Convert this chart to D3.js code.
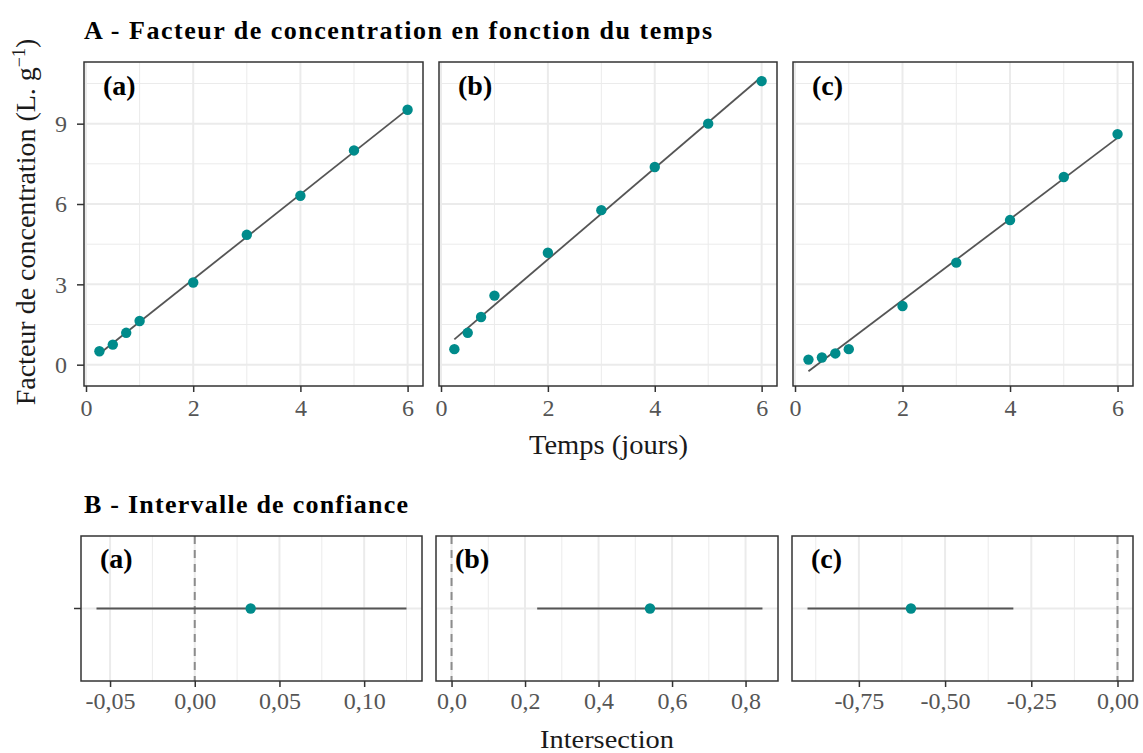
<!DOCTYPE html>
<html><head><meta charset="utf-8">
<script src="https://cdn.jsdelivr.net/npm/d3@7"></script>
<style>body{margin:0;background:#fff}svg{display:block}text{font-family:"Liberation Serif","DejaVu Serif",serif}</style>
</head><body><svg id="c" width="1143" height="753"></svg>
<script>
// ---- data ----
const times = [0.25, 0.5, 0.75, 1, 2, 3, 4, 5, 6];
const panelLabels = ["(a)", "(b)", "(c)"];
const concA = [0.50, 0.75, 1.19, 1.63, 3.07, 4.85, 6.31, 8.00, 9.52];
const concB = [0.58, 1.19, 1.78, 2.58, 4.18, 5.77, 7.38, 9.00, 10.59];
const concC = [0.19, 0.27, 0.42, 0.58, 2.19, 3.81, 5.40, 7.01, 8.61];
const ciLow  = [-0.058, 0.233, -0.899];
const ciEst  = [0.033, 0.540, -0.599];
const ciHigh = [0.125, 0.846, -0.302];
const yTicks = [0, 3, 6, 9];
const xTicks = [0, 2, 4, 6];
const ciTicksA = [-0.05, 0, 0.05, 0.10];
const ciTicksB = [0, 0.2, 0.4, 0.6, 0.8];
const ciTicksC = [-0.75, -0.5, -0.25, 0];
const ciDigits = [2, 1, 2];

const series = [concA, concB, concC];
const ciTicks = [ciTicksA, ciTicksB, ciTicksC];

const svg = d3.select("#c");
const teal = "#008B8B", grid = "#EBEBEB", border = "#333333", tickCol = "#555555";
const tickFont = 24;

function ols(x, y) {
  const mx = d3.mean(x), my = d3.mean(y);
  let sxy = 0, sxx = 0;
  x.forEach((v, i) => { sxy += (v - mx) * (y[i] - my); sxx += (v - mx) ** 2; });
  const b = sxy / sxx; return { a: my - b * mx, b };
}
function expand(ext, f = 0.05) { const r = ext[1] - ext[0]; return [ext[0] - r * f, ext[1] + r * f]; }
function minors(ticks, dom) {
  const step = ticks[1] - ticks[0], out = [];
  for (let v = ticks[0] - step / 2; v <= dom[1]; v += step) if (v >= dom[0]) out.push(v);
  return out;
}
const fr = (d, n) => d3.format("." + n + "f")(d).replace("−", "-").replace(".", ",");

// ---- Part A ----
const fits = series.map(s => ols(times, s));
const allY = [];
series.forEach((s, i) => { allY.push(...s); allY.push(fits[i].a + fits[i].b * times[0], fits[i].a + fits[i].b * times[times.length - 1]); });
const xDomA = expand(d3.extent(times));
const yDomA = expand(d3.extent(allY));
const panA = [[84, 423], [439, 777], [793, 1133]];
const topA = 62, botA = 386;
const y = d3.scaleLinear().domain(yDomA).range([botA, topA]);

svg.append("text").attr("x", 84).attr("y", 39).attr("font-size", 26).attr("font-weight", "bold")
  .attr("textLength", 628).attr("lengthAdjust", "spacing")
  .attr("fill", "#000").text("A - Facteur de concentration en fonction du temps");

panA.forEach((p, i) => {
  const x = d3.scaleLinear().domain(xDomA).range(p);
  const g = svg.append("g");
  minors(yTicks, yDomA).forEach(v => g.append("line").attr("x1", p[0]).attr("x2", p[1]).attr("y1", y(v)).attr("y2", y(v)).attr("stroke", grid).attr("stroke-width", 1));
  minors(xTicks, xDomA).forEach(v => g.append("line").attr("y1", topA).attr("y2", botA).attr("x1", x(v)).attr("x2", x(v)).attr("stroke", grid).attr("stroke-width", 1));
  yTicks.forEach(v => g.append("line").attr("x1", p[0]).attr("x2", p[1]).attr("y1", y(v)).attr("y2", y(v)).attr("stroke", grid).attr("stroke-width", 2));
  xTicks.forEach(v => g.append("line").attr("y1", topA).attr("y2", botA).attr("x1", x(v)).attr("x2", x(v)).attr("stroke", grid).attr("stroke-width", 2));
  const f = fits[i];
  const ends = [times[0], times[times.length - 1]];
  g.append("path").attr("d", d3.line().x(d => x(d)).y(d => y(f.a + f.b * d))(ends))
    .attr("stroke", "#555555").attr("stroke-width", 1.8).attr("fill", "none");
  g.selectAll("circle").data(series[i]).join("circle")
    .attr("cx", (d, j) => x(times[j])).attr("cy", d => y(d)).attr("r", 5.2).attr("fill", teal);
  g.append("rect").attr("x", p[0]).attr("y", topA).attr("width", p[1] - p[0]).attr("height", botA - topA)
    .attr("fill", "none").attr("stroke", border).attr("stroke-width", 1.5);
  g.append("text").attr("x", p[0] + 19).attr("y", 95).attr("font-size", 28).attr("font-weight", "bold").text(panelLabels[i]);
  const ax = svg.append("g").attr("transform", `translate(0,${botA})`)
    .call(d3.axisBottom(x).tickValues(xTicks).tickSize(6).tickPadding(7).tickFormat(d3.format("d")));
  ax.select(".domain").remove();
  ax.selectAll(".tick line").attr("stroke", border).attr("stroke-width", 1.5);
  ax.selectAll(".tick text").attr("font-size", tickFont).attr("fill", tickCol).attr("font-family", "Liberation Serif");
});
const ay = svg.append("g").attr("transform", `translate(${panA[0][0]},0)`)
  .call(d3.axisLeft(y).tickValues(yTicks).tickSize(7).tickPadding(10).tickFormat(d3.format("d")));
ay.select(".domain").remove();
ay.selectAll(".tick line").attr("stroke", border).attr("stroke-width", 1.5);
ay.selectAll(".tick text").attr("font-size", tickFont).attr("fill", tickCol).attr("font-family", "Liberation Serif");

const yl = svg.append("text").attr("transform", `translate(35,${(topA + botA) / 2 - 2}) rotate(-90)`)
  .attr("text-anchor", "middle").attr("font-size", 28).attr("fill", "#1a1a1a");
yl.append("tspan").text("Facteur de concentration (L. g");
yl.append("tspan").attr("baseline-shift", "super").attr("font-size", 18).text("−1");
yl.append("tspan").text(")");

svg.append("text").attr("x", (panA[0][0] + panA[2][1]) / 2).attr("y", 454).attr("text-anchor", "middle")
  .attr("font-size", 27).attr("textLength", 159).attr("lengthAdjust", "spacingAndGlyphs")
  .attr("fill", "#1a1a1a").text("Temps (jours)");

// ---- Part B ----
svg.append("text").attr("x", 84).attr("y", 513).attr("font-size", 26).attr("font-weight", "bold")
  .attr("textLength", 324).attr("lengthAdjust", "spacing")
  .attr("fill", "#000").text("B - Intervalle de confiance");
const panB = [[81, 422], [436, 778], [792, 1133]];
const topB = 536, botB = 681, midB = (topB + botB) / 2;
panB.forEach((p, i) => {
  const dom = expand(d3.extent([ciLow[i], ciHigh[i], 0]));
  const x = d3.scaleLinear().domain(dom).range(p);
  const g = svg.append("g");
  minors(ciTicks[i], dom).forEach(v => g.append("line").attr("y1", topB).attr("y2", botB).attr("x1", x(v)).attr("x2", x(v)).attr("stroke", grid).attr("stroke-width", 1));
  ciTicks[i].forEach(v => g.append("line").attr("y1", topB).attr("y2", botB).attr("x1", x(v)).attr("x2", x(v)).attr("stroke", grid).attr("stroke-width", 2));
  g.append("line").attr("x1", p[0]).attr("x2", p[1]).attr("y1", midB).attr("y2", midB).attr("stroke", grid).attr("stroke-width", 2);
  g.append("line").attr("x1", x(0)).attr("x2", x(0)).attr("y1", topB).attr("y2", botB)
    .attr("stroke", "#8C8C8C").attr("stroke-width", 2).attr("stroke-dasharray", "8,6");
  g.append("line").attr("x1", x(ciLow[i])).attr("x2", x(ciHigh[i])).attr("y1", midB).attr("y2", midB)
    .attr("stroke", "#555555").attr("stroke-width", 2);
  g.append("circle").attr("cx", x(ciEst[i])).attr("cy", midB).attr("r", 5.2).attr("fill", teal);
  g.append("rect").attr("x", p[0]).attr("y", topB).attr("width", p[1] - p[0]).attr("height", botB - topB)
    .attr("fill", "none").attr("stroke", border).attr("stroke-width", 1.5);
  g.append("text").attr("x", p[0] + 19).attr("y", 568).attr("font-size", 28).attr("font-weight", "bold").text(panelLabels[i]);
  const ax = svg.append("g").attr("transform", `translate(0,${botB})`)
    .call(d3.axisBottom(x).tickValues(ciTicks[i]).tickSize(6).tickPadding(5).tickFormat(d => fr(d, ciDigits[i])));
  ax.select(".domain").remove();
  ax.selectAll(".tick line").attr("stroke", border).attr("stroke-width", 1.5);
  ax.selectAll(".tick text").attr("font-size", tickFont).attr("fill", tickCol).attr("font-family", "Liberation Serif");
});
svg.append("line").attr("x1", panB[0][0] - 7).attr("x2", panB[0][0]).attr("y1", midB).attr("y2", midB)
  .attr("stroke", border).attr("stroke-width", 1.5);
svg.append("text").attr("x", (panB[0][0] + panB[2][1]) / 2).attr("y", 748).attr("text-anchor", "middle")
  .attr("font-size", 26).attr("textLength", 134).attr("lengthAdjust", "spacingAndGlyphs")
  .attr("fill", "#1a1a1a").text("Intersection");
</script></body></html>
